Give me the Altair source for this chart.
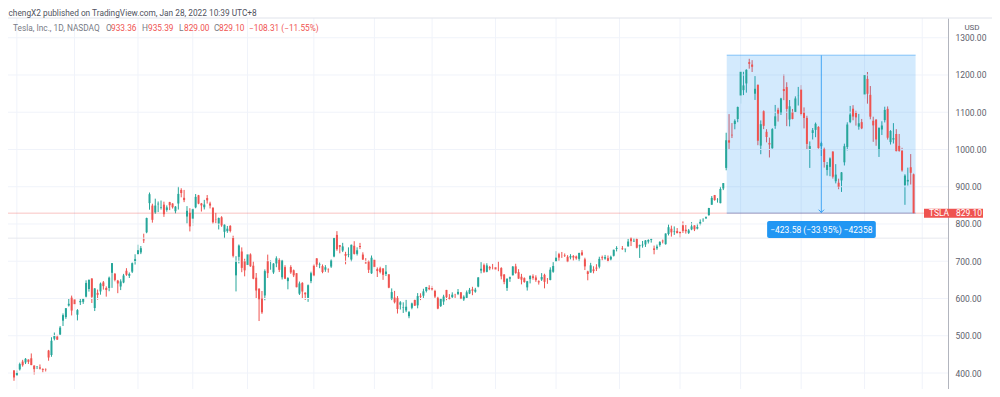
import altair as alt
import pandas as pd
import numpy as np

# ---------------- data (TSLA daily, Oct 30 2020 .. Jan 27 2022) ----------------
opens = [406.90, 394.00, 409.73, 430.62, 428.30, 436.10, 439.50, 420.09, 416.45, 415.05,
         410.85, 408.93, 460.17, 448.35, 492.00, 497.99, 503.50, 540.40, 550.06, 581.16,
         602.21, 597.59, 556.44, 590.02, 591.01, 604.92, 625.51, 653.69, 574.37, 615.01,
         619.00, 643.28, 628.23, 628.19, 668.90, 666.24, 648.00, 632.20, 642.99, 674.51,
         661.00, 672.00, 699.99, 719.46, 723.66, 758.49, 777.63, 856.00, 849.40, 831.00,
         852.76, 843.39, 852.00, 837.80, 858.74, 855.00, 834.31, 855.00, 891.38, 870.35,
         820.00, 830.00, 814.29, 844.68, 877.02, 855.00, 845.00, 869.67, 855.12, 843.64,
         812.44, 801.26, 818.00, 779.09, 780.90, 795.00, 762.64, 662.13, 711.85, 726.15,
         700.00, 690.11, 718.28, 687.99, 655.80, 626.06, 600.55, 608.18, 700.30, 699.40,
         670.00, 694.09, 703.35, 656.87, 684.29, 646.60, 684.59, 675.77, 667.91, 613.00,
         641.87, 615.64, 601.75, 646.62, 688.37, 707.71, 690.30, 687.00, 677.38, 677.77,
         685.70, 712.70, 770.70, 743.10, 728.65, 719.60, 717.42, 704.77, 741.50, 719.80,
         741.00, 717.96, 696.41, 699.51, 667.59, 703.80, 678.94, 681.06, 680.76, 665.80,
         664.90, 599.24, 602.49, 601.54, 583.41, 575.55, 568.00, 552.55, 575.00, 596.11,
         581.60, 607.31, 607.56, 620.24, 628.50, 627.80, 620.13, 601.80, 579.71, 591.83,
         623.01, 602.17, 603.88, 610.23, 612.23, 616.69, 597.54, 601.89, 613.37, 624.48,
         618.25, 632.00, 674.99, 689.58, 671.64, 684.65, 679.77, 683.92, 678.98, 681.71,
         664.27, 628.37, 653.18, 662.20, 686.32, 670.75, 658.39, 654.68, 629.89, 651.99,
         659.61, 656.44, 646.36, 650.97, 663.40, 647.00, 649.79, 671.76, 700.00, 719.00,
         711.00, 716.00, 711.90, 710.17, 713.99, 712.71, 706.34, 723.71, 705.07, 672.66,
         669.75, 678.21, 682.85, 685.44, 710.68, 707.03, 708.31, 705.00, 714.72, 733.00,
         734.08, 734.50, 732.25, 740.00, 761.58, 753.41, 759.60, 740.21, 742.57, 745.00,
         752.83, 757.15, 734.56, 734.79, 743.53, 755.00, 745.89, 773.12, 787.20, 779.80,
         781.00, 778.40, 796.50, 784.80, 776.20, 785.46, 796.21, 787.65, 800.93, 810.47,
         815.49, 823.73, 851.77, 877.53, 865.35, 856.00, 895.50, 950.53, 1024.69, 1039.66,
         1068.31, 1081.86, 1145.00, 1159.36, 1177.33, 1234.41, 1228.00, 1149.79, 1173.60, 1010.41,
         1102.77, 1047.50, 1017.63, 1003.31, 1063.51, 1106.55, 1098.87, 1162.33, 1167.51, 1080.39,
         1099.47, 1100.99, 1144.37, 1160.70, 1099.06, 1084.79, 1001.51, 1044.20, 1052.71, 1060.64,
         1008.75, 1001.09, 945.00, 953.21, 994.50, 914.77, 910.80, 916.87, 965.66, 1006.80,
         1073.67, 1109.49, 1098.64, 1061.33, 1073.44, 1147.75, 1189.55, 1146.65, 1077.00, 1080.37,
         1000.00, 1053.67, 1078.85, 1109.07, 1019.88, 1026.61, 1041.71, 1009.73, 996.34, 904.76,
         914.20, 952.43, 933.36]
highs = [407.59, 406.98, 427.77, 435.40, 440.00, 436.57, 452.50, 420.09, 418.70, 423.00,
         412.53, 412.45, 462.00, 496.00, 508.61, 502.50, 526.00, 559.99, 574.00, 598.78,
         607.80, 597.85, 571.54, 598.97, 599.04, 648.79, 651.28, 654.32, 627.75, 624.00,
         642.75, 646.90, 632.50, 658.82, 695.00, 668.50, 649.88, 651.50, 666.09, 681.40,
         669.90, 696.60, 718.72, 744.49, 740.84, 774.00, 816.99, 884.49, 854.43, 868.00,
         860.47, 863.00, 859.90, 850.00, 859.50, 855.72, 848.00, 900.40, 895.90, 891.50,
         848.00, 842.41, 842.00, 880.50, 878.08, 856.50, 864.77, 877.77, 859.80, 844.82,
         829.88, 817.33, 821.00, 799.84, 794.69, 796.79, 768.50, 713.61, 745.00, 737.21,
         706.70, 719.00, 721.11, 700.70, 668.45, 627.84, 620.13, 678.09, 717.85, 702.50,
         694.88, 713.18, 707.92, 703.73, 689.23, 657.23, 689.30, 677.80, 668.02, 645.50,
         643.82, 616.48, 637.66, 672.00, 692.42, 708.16, 696.55, 691.38, 689.55, 680.97,
         704.80, 763.00, 780.79, 743.69, 749.41, 725.40, 737.25, 744.84, 753.77, 737.36,
         749.30, 724.00, 708.50, 702.25, 715.47, 706.00, 683.45, 685.30, 681.02, 690.00,
         665.05, 627.10, 620.41, 606.46, 592.87, 589.73, 596.25, 566.21, 588.85, 596.68,
         614.48, 613.99, 626.17, 631.13, 635.59, 633.80, 623.36, 604.55, 600.61, 610.00,
         623.09, 611.79, 616.59, 612.56, 625.49, 616.79, 608.50, 621.47, 628.35, 631.39,
         628.57, 657.20, 697.62, 693.81, 694.70, 687.51, 692.81, 687.99, 700.00, 684.00,
         665.70, 654.43, 658.91, 687.24, 693.28, 678.61, 666.14, 656.70, 647.20, 662.39,
         664.86, 662.17, 648.80, 668.20, 666.50, 654.97, 683.69, 697.53, 726.94, 722.65,
         724.90, 720.95, 716.33, 719.03, 716.59, 715.18, 722.80, 729.90, 709.50, 674.58,
         695.77, 686.55, 692.13, 712.13, 715.22, 716.97, 715.40, 715.00, 731.00, 740.39,
         741.99, 740.97, 734.00, 760.20, 764.45, 762.10, 762.61, 744.78, 754.47, 756.86,
         758.91, 761.04, 742.00, 744.74, 753.67, 758.20, 774.80, 799.00, 795.64, 793.50,
         789.13, 780.78, 806.97, 797.31, 786.66, 805.00, 796.38, 801.24, 812.32, 815.41,
         820.25, 843.21, 875.00, 877.95, 869.49, 900.00, 910.00, 1045.02, 1094.94, 1070.88,
         1081.00, 1115.21, 1208.59, 1208.59, 1215.39, 1243.49, 1239.87, 1197.00, 1174.50, 1078.10,
         1104.97, 1054.50, 1031.98, 1057.20, 1119.64, 1112.00, 1138.72, 1201.95, 1180.50, 1132.77,
         1108.78, 1142.67, 1168.00, 1172.84, 1113.00, 1090.58, 1021.64, 1057.67, 1072.38, 1062.49,
         1020.98, 1005.00, 966.41, 978.75, 994.98, 960.66, 921.69, 939.50, 1015.66, 1072.98,
         1117.00, 1119.00, 1104.00, 1095.55, 1082.00, 1201.07, 1208.00, 1170.34, 1088.00, 1080.93,
         1059.10, 1075.85, 1114.84, 1115.60, 1052.00, 1070.79, 1054.67, 1041.66, 1004.55, 933.51,
         951.26, 987.69, 935.39]
lows = [379.11, 392.30, 406.69, 417.10, 424.00, 424.28, 421.00, 396.03, 410.58, 409.52,
        401.66, 404.09, 433.01, 443.50, 487.57, 489.06, 501.79, 526.20, 545.37, 578.45,
        554.51, 572.05, 541.21, 582.43, 585.50, 603.05, 618.50, 588.00, 566.34, 596.80,
        610.20, 623.80, 605.00, 619.50, 628.54, 646.07, 614.23, 622.57, 641.00, 660.80,
        655.00, 668.36, 691.12, 717.19, 719.20, 749.10, 775.20, 838.39, 803.62, 827.34,
        832.00, 838.75, 819.10, 833.00, 837.28, 841.42, 828.62, 838.82, 871.60, 858.66,
        801.00, 780.10, 795.56, 842.20, 853.06, 833.42, 838.97, 854.75, 841.75, 800.02,
        801.73, 785.33, 792.44, 762.01, 776.27, 777.37, 710.20, 619.00, 694.17, 670.58,
        659.51, 685.05, 685.00, 651.71, 600.00, 539.49, 558.79, 595.21, 655.06, 677.18,
        666.14, 684.04, 671.00, 651.01, 652.00, 624.62, 666.14, 657.51, 630.11, 609.50,
        599.89, 596.02, 591.01, 641.11, 659.42, 684.70, 681.37, 667.84, 671.65, 669.43,
        682.09, 710.66, 728.03, 721.31, 724.60, 691.80, 710.69, 698.00, 718.04, 715.46,
        732.61, 703.35, 693.60, 668.50, 666.14, 680.50, 657.70, 667.34, 650.00, 660.22,
        627.61, 595.60, 586.77, 559.65, 570.46, 561.20, 563.38, 546.98, 571.07, 580.00,
        573.65, 595.71, 601.50, 616.21, 622.38, 620.55, 599.14, 571.22, 577.20, 582.88,
        595.50, 597.63, 600.50, 601.52, 609.18, 598.23, 593.50, 601.34, 611.80, 608.88,
        615.50, 630.04, 667.61, 668.70, 670.32, 675.89, 678.14, 672.80, 673.26, 651.40,
        638.32, 620.46, 644.69, 662.16, 666.30, 652.84, 637.88, 642.20, 621.29, 640.50,
        650.29, 644.60, 637.30, 647.11, 627.24, 639.40, 648.80, 669.00, 698.40, 701.01,
        708.93, 711.41, 697.63, 705.13, 701.88, 704.21, 699.40, 714.34, 676.40, 648.84,
        669.35, 667.59, 673.70, 680.75, 702.64, 704.00, 697.62, 702.10, 712.73, 726.44,
        731.27, 730.54, 724.20, 739.26, 740.77, 751.63, 734.52, 708.85, 736.40, 738.36,
        747.61, 750.00, 718.62, 730.44, 739.12, 747.92, 744.56, 769.31, 766.18, 770.68,
        775.00, 763.59, 776.12, 774.20, 773.22, 783.38, 780.91, 785.50, 796.57, 805.78,
        813.35, 822.35, 851.47, 862.51, 857.38, 855.50, 890.96, 944.20, 1001.44, 1030.78,
        1054.20, 1073.21, 1123.02, 1146.00, 1152.62, 1217.00, 1208.00, 1133.00, 1011.52, 987.31,
        1054.68, 1019.20, 978.60, 1002.18, 1055.50, 1075.02, 1092.70, 1132.43, 1062.70, 1062.00,
        1081.00, 1100.19, 1118.00, 1090.76, 1056.65, 1000.21, 950.50, 1026.81, 1033.00, 1002.36,
        982.53, 951.42, 930.00, 928.25, 921.85, 909.04, 893.39, 886.12, 957.05, 997.56,
        1070.72, 1078.42, 1064.14, 1053.15, 1054.59, 1136.72, 1123.05, 1081.01, 1020.50, 1010.00,
        980.00, 1038.82, 1072.59, 1026.54, 1013.38, 1016.06, 995.00, 994.00, 940.50, 851.47,
        903.21, 906.00, 829.00]
closes = [388.04, 400.51, 423.90, 420.98, 438.09, 429.95, 421.26, 410.36, 417.13, 411.76,
          408.50, 408.09, 441.61, 486.64, 499.27, 489.61, 521.85, 555.38, 574.00, 585.76,
          567.60, 584.76, 568.82, 593.38, 599.04, 641.76, 649.88, 604.48, 627.07, 609.99,
          639.83, 633.25, 622.77, 655.90, 695.00, 649.86, 640.34, 645.98, 661.77, 663.69,
          665.99, 694.78, 705.67, 729.77, 735.11, 755.98, 816.04, 880.02, 811.19, 849.44,
          854.41, 845.00, 826.16, 844.55, 850.45, 844.99, 846.64, 880.80, 883.09, 864.16,
          835.43, 793.53, 839.81, 872.79, 854.69, 849.99, 852.23, 863.42, 849.46, 804.82,
          811.66, 816.12, 796.22, 798.15, 787.38, 781.30, 714.50, 698.84, 742.02, 682.22,
          675.50, 718.43, 686.44, 653.20, 621.44, 597.95, 563.00, 673.58, 668.06, 699.60,
          693.73, 707.94, 676.88, 701.81, 653.16, 654.87, 670.00, 662.16, 630.27, 640.39,
          618.71, 611.29, 635.62, 667.93, 661.75, 691.05, 691.62, 670.97, 683.80, 677.02,
          701.98, 762.32, 732.23, 738.85, 739.78, 714.63, 718.99, 744.12, 719.69, 729.40,
          738.20, 704.74, 694.40, 677.00, 709.44, 684.90, 673.60, 670.94, 663.54, 672.37,
          629.04, 617.20, 589.89, 571.69, 589.74, 576.83, 577.87, 563.46, 586.78, 580.88,
          606.44, 604.69, 619.13, 630.85, 625.22, 623.90, 605.12, 572.84, 599.05, 605.13,
          603.59, 598.78, 610.12, 609.89, 617.69, 599.36, 604.87, 616.60, 623.31, 620.83,
          623.71, 656.57, 679.82, 671.87, 688.72, 680.76, 679.70, 677.92, 678.90, 659.58,
          644.65, 652.81, 656.95, 685.70, 668.54, 653.38, 650.60, 644.22, 646.22, 660.50,
          655.29, 649.26, 643.38, 657.62, 644.78, 646.98, 677.35, 687.20, 709.67, 709.74,
          710.92, 714.63, 699.10, 713.76, 709.99, 707.82, 722.25, 717.17, 686.17, 665.71,
          688.99, 673.47, 680.26, 706.30, 708.49, 711.20, 701.16, 711.92, 730.91, 735.72,
          734.09, 732.39, 733.57, 752.92, 753.87, 754.86, 736.27, 743.00, 744.49, 755.83,
          756.99, 759.49, 730.17, 739.38, 751.94, 753.64, 774.39, 791.36, 777.56, 781.31,
          775.48, 775.22, 781.53, 780.59, 782.75, 793.61, 785.49, 791.94, 805.72, 811.08,
          818.32, 843.03, 870.11, 864.27, 865.80, 894.00, 909.68, 1024.86, 1018.43, 1037.86,
          1077.04, 1114.00, 1208.59, 1172.00, 1213.86, 1229.91, 1222.09, 1162.94, 1023.50, 1067.95,
          1063.51, 1033.42, 1013.39, 1054.73, 1089.01, 1096.38, 1137.06, 1156.87, 1109.03, 1116.00,
          1081.92, 1136.99, 1144.76, 1095.00, 1084.60, 1014.97, 1009.01, 1051.75, 1068.96, 1003.80,
          1017.03, 966.41, 958.51, 975.99, 926.92, 932.57, 899.94, 938.53, 1008.87, 1067.00,
          1093.94, 1088.47, 1086.19, 1070.34, 1056.78, 1199.78, 1149.59, 1088.12, 1064.70, 1026.96,
          1058.12, 1064.40, 1106.22, 1031.56, 1049.61, 1030.51, 995.65, 996.27, 943.90, 930.00,
          918.40, 937.41, 829.10]

# first trading day of each month (bar index), incl. Feb 1 2022 (future)
month_start_idx = [1, 21, 43, 62, 81, 104, 125, 145, 167, 188, 210, 231, 252, 273, 295, 315]
price_ticks = [400, 500, 600, 700, 800, 900, 1000, 1100, 1200, 1300]
last_close = 829.10
measure_top = 1252.68
measure_start, measure_end, measure_mid = 247.2, 312.7, 280.0
extra_line_price = 762.0

header_text = "chengX2 published on TradingView.com, Jan 28, 2022 10:39 UTC+8"
legend_pieces = ["Tesla, Inc., 1D, NASDAQ", "O", "933.36", "H", "935.39", "L", "829.00",
                 "C", "829.10", "\u2212108.31 (\u221211.55%)"]
legend_is_value = [False, False, True, False, True, False, True, False, True, True]
measure_text = "\u2212423.58 (\u221233.95%) \u221242358"

# ---------------- layout / styles ----------------
W, H = 940, 371
UP, DOWN = "#26a69a", "#ef5350"
GRID = "#f0f3fa"
BLUE = "#2196f3"
FONT = "Roboto"
TXT = 8.3
legend_x = [5, 98, 103, 134, 140, 171, 176, 206, 211, 241]

df = pd.DataFrame({"idx": np.arange(len(closes)), "open": opens, "high": highs,
                   "low": lows, "close": closes})
df["dir"] = np.where(df["close"] >= df["open"], "up", "down")

xs = alt.Scale(domain=[-0.343, 322.2], nice=False, zero=False)
ys = alt.Scale(domain=[357.05, 1353.0], nice=False, zero=False)
col = alt.Color("dir:N", scale=alt.Scale(domain=["up", "down"], range=[UP, DOWN]), legend=None)

one = pd.DataFrame({"a": [0]})


def text_layer(txt, x, y_enc, color, size=TXT, align="left"):
    return alt.Chart(pd.DataFrame({"t": [txt]})).mark_text(
        color=color, font=FONT, fontSize=size, align=align, baseline="middle").encode(
        x=alt.value(x), y=y_enc, text="t:N")


wicks = alt.Chart(df).mark_rule(strokeWidth=1).encode(
    x=alt.X("idx:Q", scale=xs, axis=None),
    y=alt.Y("low:Q", scale=ys, axis=alt.Axis(
        orient="right", values=price_ticks, format=".2f", grid=False, ticks=False,
        domain=True, domainColor="#b2b5be", domainWidth=1, labelColor="#5d606b",
        labelFont=FONT, labelFontSize=8.5, labelPadding=7, labelAlign="left",
        title=None)),
    y2="high:Q", color=col)

bodies = alt.Chart(df).mark_bar(size=2).encode(
    x="idx:Q", y="open:Q", y2="close:Q", color=col)

vgrid = alt.Chart(pd.DataFrame({"m": month_start_idx})).mark_rule(color=GRID, strokeWidth=1).encode(
    x="m:Q", y=alt.value(0), y2=alt.value(H))

hgrid = alt.Chart(pd.DataFrame({"p": price_ticks})).mark_rule(color=GRID, strokeWidth=1).encode(
    y="p:Q", x=alt.value(0), x2=alt.value(W))

extra_line = alt.Chart(pd.DataFrame({"p": [extra_line_price]})).mark_rule(
    color="#e6e8ee", strokeWidth=1).encode(y="p:Q", x=alt.value(0), x2=alt.value(W))

top_border = alt.Chart(one).mark_rule(color="#e0e3eb").encode(
    x=alt.value(0), x2=alt.value(984), y=alt.value(0))

mrect = alt.Chart(pd.DataFrame({"x1": [measure_start], "x2": [measure_end],
                                "y1": [measure_top], "y2": [last_close]})).mark_rect(
    color=BLUE, opacity=0.2).encode(x="x1:Q", x2="x2:Q", y="y1:Q", y2="y2:Q")

medges = alt.Chart(pd.DataFrame({"p": [measure_top, last_close],
                                 "x1": [measure_start] * 2, "x2": [measure_end] * 2})).mark_rule(
    color=BLUE, opacity=0.35, strokeWidth=1.5).encode(y="p:Q", x="x1:Q", x2="x2:Q")

arrow = alt.Chart(pd.DataFrame({"xm": [measure_mid], "y1": [measure_top],
                                "y2": [last_close + 1]})).mark_rule(
    color=BLUE, strokeWidth=1, opacity=0.8).encode(x="xm:Q", y="y1:Q", y2="y2:Q")

arrow_head = alt.Chart(pd.DataFrame({"xm": [measure_mid], "yp": [last_close + 2]})).mark_point(
    shape="M-1,-1L0,0L1,-1", size=30, filled=False, color=BLUE, strokeWidth=1, opacity=0.9).encode(
    x="xm:Q", y="yp:Q")

price_line = alt.Chart(pd.DataFrame({"p": [last_close]})).mark_rule(
    color=DOWN, opacity=0.35, strokeWidth=1).encode(y="p:Q", x=alt.value(0), x2=alt.value(W))

lbl_box = alt.Chart(pd.DataFrame({"x1": [261.2], "x2": [298.9], "y1": [808.0], "y2": [762.4]})).mark_rect(
    color=BLUE, cornerRadius=2).encode(x="x1:Q", x2="x2:Q", y="y1:Q", y2="y2:Q")
lbl_txt = alt.Chart(pd.DataFrame({"t": [measure_text], "xm": [measure_mid], "yp": [785.2]})).mark_text(
    color="white", font=FONT, fontSize=8.5, align="center", baseline="middle").encode(
    x="xm:Q", y="yp:Q", text="t:N")

tag_box = alt.Chart(pd.DataFrame({"y1": [last_close + 12.1], "y2": [last_close - 12.1]})).mark_rect(
    color=DOWN).encode(x=alt.value(916), x2=alt.value(975), y="y1:Q", y2="y2:Q")
tag_df = pd.DataFrame({"p": [last_close]})
tag_t1 = alt.Chart(tag_df.assign(t="TSLA")).mark_text(
    color="white", font=FONT, fontSize=8.5, align="center", baseline="middle").encode(
    x=alt.value(931), y="p:Q", text="t:N")
tag_t2 = alt.Chart(tag_df.assign(t=f"{last_close:.2f}")).mark_text(
    color="white", font=FONT, fontSize=8.5, align="center", baseline="middle").encode(
    x=alt.value(961), y="p:Q", text="t:N")

usd = text_layer("USD", 964, alt.value(10), "#5d606b", size=8, align="center")
header = text_layer(header_text, 0.5, alt.value(-4.5), "#50535e")
legend_layers = [text_layer(t, x, alt.value(11), DOWN if v else "#787b86")
                 for t, x, v in zip(legend_pieces, legend_x, legend_is_value)]

chart = alt.layer(
    wicks, vgrid, hgrid, extra_line, top_border, mrect, medges, price_line,
    bodies, arrow, arrow_head, lbl_box, lbl_txt, tag_box, tag_t1, tag_t2,
    usd, header, *legend_layers
).properties(
    width=W, height=H,
    autosize=alt.AutoSizeParams(type="none"),
    padding={"left": 0, "top": 10, "right": 44, "bottom": 0},
    background="white"
).configure_view(stroke=None)

chart.save("out.html", embed_options={"renderer": "svg", "actions": False})
